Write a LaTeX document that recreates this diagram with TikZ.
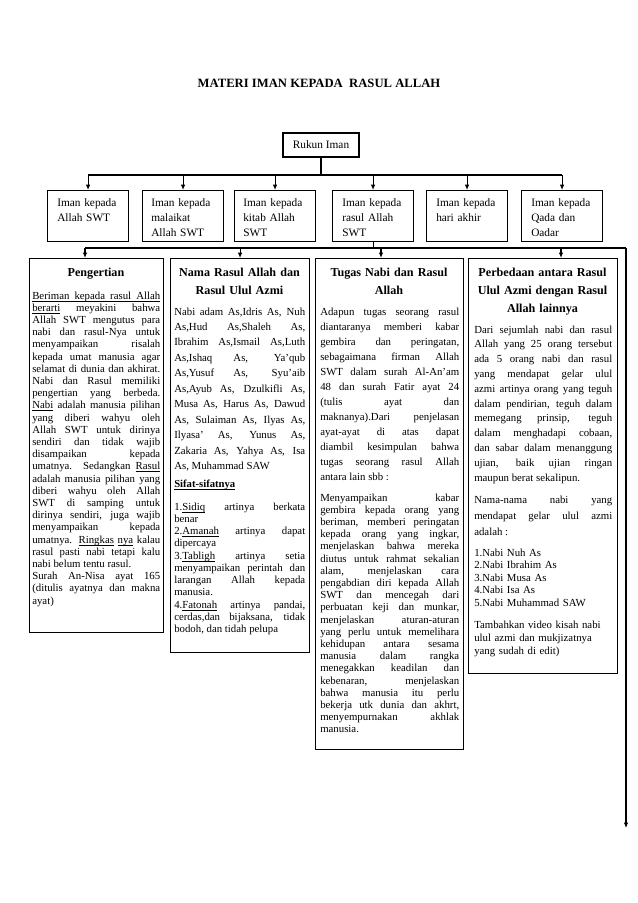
\documentclass[tikz,border=0pt]{standalone}
\usepackage{fontspec}
\setmainfont{Liberation Serif}
\usetikzlibrary{arrows.meta}
\newcommand\pxu{*0.75pt}
\newcommand\ulx[1]{\underline{\smash{#1}}}
\tolerance=10000
\hbadness=10000
\hfuzz=6pt
\begin{document}
\begin{tikzpicture}[x=0.75pt,y=-0.75pt,
  frame/.style={draw, line width=0.8pt, inner sep=0pt, anchor=north west},
  conn/.style={line width=0.8pt},
  arr/.style={line width=0.8pt, -{Latex[length=4pt,width=3.4pt]}},
  boxtxt/.style={font=\fontsize{8.5}{11.6}\selectfont, anchor=base west, inner sep=0pt, align=left, text width=75\pxu},
  ttl/.style={font=\bfseries\fontsize{9.1}{13.6}\selectfont, anchor=base, inner sep=0pt, align=center, text width=145\pxu},
  txt/.style={font=\fontsize{8.1}{#1}\selectfont, anchor=base west, inner sep=0pt, align=justify},
  lefttxt/.style={font=\fontsize{8.1}{#1}\selectfont, anchor=base west, inner sep=0pt, align=left},
]
\fill[white] (0,0) rectangle (638,903);
\useasboundingbox (0,0) rectangle (638,903);

% title
\node[font=\bfseries\fontsize{9.5}{11}\selectfont, anchor=base, inner sep=0pt] (title) at (319,87) {MATERI IMAN KEPADA\hspace{0.25em} RASUL ALLAH};

% Rukun Iman
\node[draw, line width=0.8pt, minimum width=76\pxu, minimum height=24\pxu, inner sep=0pt, font=\fontsize{8.5}{10}\selectfont] (rukun) at (321,145) {Rukun Iman};

% six boxes
\node[frame, minimum width=81\pxu, minimum height=51\pxu] (b1) at (47,190) {};
\node[frame, minimum width=81\pxu, minimum height=51\pxu] (b2) at (142,190) {};
\node[frame, minimum width=81\pxu, minimum height=51\pxu] (b3) at (234,190) {};
\node[frame, minimum width=81\pxu, minimum height=51\pxu] (b4) at (332,190) {};
\node[frame, minimum width=81\pxu, minimum height=51\pxu] (b5) at (426,190) {};
\node[frame, minimum width=81\pxu, minimum height=51\pxu] (b6) at (521,190) {};
\node[boxtxt] (bt1) at (57,206) {Iman kepada\\Allah SWT};
\node[boxtxt] (bt2) at (151,206) {Iman kepada\\malaikat\\Allah SWT};
\node[boxtxt] (bt3) at (243,206) {Iman kepada\\kitab Allah\\SWT};
\node[boxtxt] (bt4) at (342,206) {Iman kepada\\rasul Allah\\SWT};
\node[boxtxt] (bt5) at (436,206) {Iman kepada\\hari akhir};
\node[boxtxt] (bt6) at (531,206) {Iman kepada\\Qada dan\\Oadar};

% upper connectors
\coordinate (busY) at (0,175);
\coordinate (busL) at (b1.north |- busY);
\coordinate (busR) at (b6.north |- busY);
\draw[conn] (rukun.south) -- (rukun.south |- busY);
\draw[conn] (busL) -- (busR);
\foreach \b in {b1,b2,b3,b4,b5,b6}{
  \draw[arr] (\b.north |- busY) -- (\b.north);
}

% columns
\node[frame, minimum width=134\pxu, minimum height=374\pxu] (c1) at (29,258) {};
\node[frame, minimum width=139\pxu, minimum height=394\pxu] (c2) at (170,258) {};
\node[frame, minimum width=148\pxu, minimum height=491\pxu] (c3) at (315,258) {};
\node[frame, minimum width=149\pxu, minimum height=415\pxu] (c4) at (468,258) {};

% lower connectors
\coordinate (lowY) at (0,248);
\coordinate (lowL) at (85,248);
\coordinate (lowR) at (626,248);
\coordinate (a3) at (381,248);
\coordinate (a4) at (561,248);
\coordinate (endR) at (626,828);
\draw[conn] (b4.south) -- (b4.south |- lowY);
\draw[conn] (lowL) -- (lowR);
\draw[arr] (lowL) -- (lowL |- c1.north);
\draw[arr] (c2.north |- lowY) -- (c2.north);
\draw[arr] (a3) -- (a3 |- c3.north);
\draw[arr] (a4) -- (a4 |- c4.north);
\draw[arr] (lowR) -- (endR);

% column 1
\node[ttl] (h1) at (96,276) {Pengertian};
\node[txt=9.15, text width=128\pxu] (t1) at (32,299) {%
\ulx{\makebox[\linewidth][s]{Beriman kepada rasul Allah}}\linebreak
\ulx{berarti} meyakini bahwa\linebreak
Allah SWT mengutus para\linebreak
nabi dan rasul-Nya untuk\linebreak
menyampaikan risalah\linebreak
kepada umat manusia agar\linebreak
selamat di dunia dan akhirat.\linebreak
Nabi dan Rasul memiliki\linebreak
pengertian yang berbeda.\linebreak
\ulx{Nabi} adalah manusia pilihan\linebreak
yang diberi wahyu oleh\linebreak
Allah SWT untuk dirinya\linebreak
sendiri dan tidak wajib\linebreak
disampaikan kepada\linebreak
umatnya. Sedangkan \ulx{Rasul}\linebreak
adalah manusia pilihan yang\linebreak
diberi wahyu oleh Allah\linebreak
SWT di samping untuk\linebreak
dirinya sendiri, juga wajib\linebreak
menyampaikan kepada\linebreak
umatnya. \ulx{Ringkas} \ulx{nya} kalau\linebreak
rasul pasti nabi tetapi kalu\linebreak
nabi belum tentu rasul.\par
Surah An-Nisa ayat 165\linebreak
(ditulis ayatnya dan makna\linebreak
ayat)};

% column 2
\node[ttl] (h2) at (239.5,276) {Nama Rasul Allah dan\\Rasul Ulul Azmi};
\node[txt=11.6, text width=131\pxu] (t2) at (174,315) {%
Nabi adam As,Idris As, Nuh\linebreak
As,Hud As,Shaleh As,\linebreak
Ibrahim As,Ismail As,Luth\linebreak
As,Ishaq As, Ya’qub\linebreak
As,Yusuf As, Syu’aib\linebreak
As,Ayub As, Dzulkifli As,\linebreak
Musa As, Harus As, Dawud\linebreak
As, Sulaiman As, Ilyas As,\linebreak
Ilyasa’ As, Yunus As,\linebreak
Zakaria As, Yahya As, Isa\linebreak
As, Muhammad SAW};
\node[font=\bfseries\fontsize{8}{9}\selectfont, anchor=base west, inner sep=0pt] (s2) at (174,487) {\ulx{Sifat-sifatnya}};
\node[txt=9.2, text width=131\pxu] (t2b) at (174,510) {%
1.\ulx{Sidiq} artinya berkata\linebreak
benar\par
2.\ulx{Amanah} artinya dapat\linebreak
dipercaya\par
3.\ulx{Tabligh} artinya setia\linebreak
menyampaikan perintah dan\linebreak
larangan Allah kepada\linebreak
manusia.\par
4.\ulx{Fatonah} artinya pandai,\linebreak
cerdas,dan bijaksana, tidak\linebreak
bodoh, dan tidah pelupa};

% column 3
\node[ttl] (h3) at (389,276) {Tugas Nabi dan Rasul\\Allah};
\node[txt=11.25, text width=139\pxu] (t3) at (320,315) {%
Adapun tugas seorang rasul\linebreak
diantaranya memberi kabar\linebreak
gembira dan peringatan,\linebreak
sebagaimana firman Allah\linebreak
SWT dalam surah Al-An’am\linebreak
48 dan surah Fatir ayat 24\linebreak
(tulis ayat dan\linebreak
maknanya).Dari penjelasan\linebreak
ayat-ayat di atas dapat\linebreak
diambil kesimpulan bahwa\linebreak
tugas seorang rasul Allah\linebreak
antara lain sbb :};
\node[txt=9.15, text width=139\pxu] (t3b) at (320,501) {%
Menyampaikan kabar\linebreak
gembira kepada orang yang\linebreak
beriman, memberi peringatan\linebreak
kepada orang yang ingkar,\linebreak
menjelaskan bahwa mereka\linebreak
diutus untuk rahmat sekalian\linebreak
alam, menjelaskan cara\linebreak
pengabdian diri kepada Allah\linebreak
SWT dan mencegah dari\linebreak
perbuatan keji dan munkar,\linebreak
menjelaskan aturan-aturan\linebreak
yang perlu untuk memelihara\linebreak
kehidupan antara sesama\linebreak
manusia dalam rangka\linebreak
menegakkan keadilan dan\linebreak
kebenaran, menjelaskan\linebreak
bahwa manusia itu perlu\linebreak
bekerja utk dunia dan akhrt,\linebreak
menyempurnakan akhlak\linebreak
manusia.};

% column 4
\node[ttl] (h4) at (542.5,276) {Perbedaan antara Rasul\\Ulul Azmi dengan Rasul\\Allah lainnya};
\node[txt=11.1, text width=138\pxu] (t4) at (474,333) {%
Dari sejumlah nabi dan rasul\linebreak
Allah yang 25 orang tersebut\linebreak
ada 5 orang nabi dan rasul\linebreak
yang mendapat gelar ulul\linebreak
azmi artinya orang yang teguh\linebreak
dalam pendirian, teguh dalam\linebreak
memegang prinsip, teguh\linebreak
dalam menghadapi cobaan,\linebreak
dan sabar dalam menanggung\linebreak
ujian, baik ujian ringan\linebreak
maupun berat sekalipun.};
\node[txt=12, text width=138\pxu] (t4b) at (474,503) {%
Nama-nama nabi yang\linebreak
mendapat gelar ulul azmi\linebreak
adalah :};
\node[lefttxt=9.4, text width=138\pxu] (t4c) at (474,556) {%
1.Nabi Nuh As\\
2.Nabi Ibrahim As\\
3.Nabi Musa As\\
4.Nabi Isa As\\
5.Nabi Muhammad SAW};
\node[lefttxt=10.1, text width=138\pxu] (t4d) at (474,628) {%
Tambahkan video kisah nabi\\
ulul azmi dan mukjizatnya\\
yang sudah di edit)};
\end{tikzpicture}
\end{document}
